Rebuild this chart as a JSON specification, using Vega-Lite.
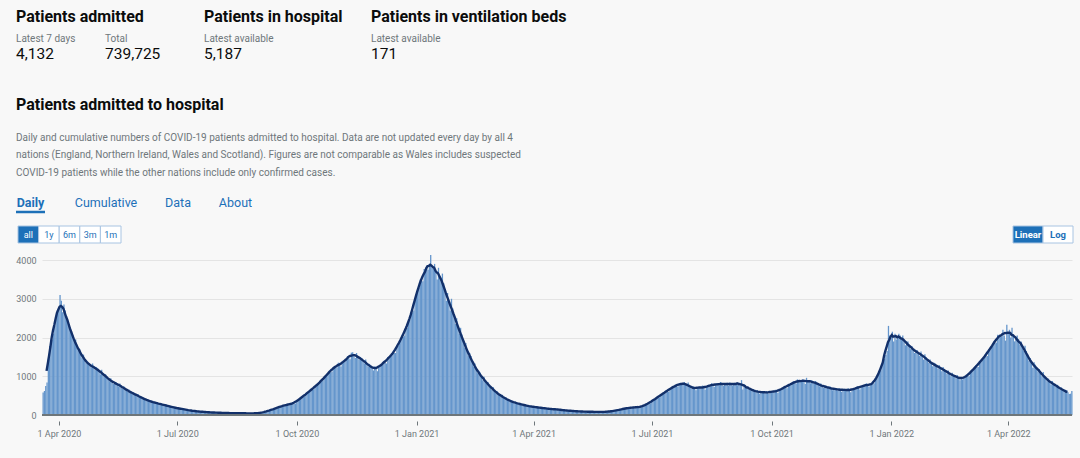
{
"$schema": "https://vega.github.io/schema/vega-lite/v6.json",
"background": "#f8f8f8",
"padding": {"left": 14, "right": 8, "top": 9, "bottom": 25},
"config": {
  "view": {"stroke": null},
  "font": "Roboto",
  "text": {"font": "Roboto"},
  "title": {"font": "Roboto", "subtitleFont": "Roboto", "anchor": "start", "frame": "group", "color": "#0b0c0c", "fontWeight": "bold"}
},
"datasets": {
"admissions": [
{"date":"2020-03-19","admissions":580},{"date":"2020-03-20","admissions":620},{"date":"2020-03-21","admissions":750},{"date":"2020-03-22","admissions":840},{"date":"2020-03-23","admissions":1450},{"date":"2020-03-24","admissions":1780},{"date":"2020-03-25","admissions":1950},{"date":"2020-03-26","admissions":1950},{"date":"2020-03-27","admissions":2100},{"date":"2020-03-28","admissions":2300},{"date":"2020-03-29","admissions":2550},{"date":"2020-03-30","admissions":2700},{"date":"2020-03-31","admissions":2750},
{"date":"2020-04-01","admissions":3100},{"date":"2020-04-02","admissions":2950},{"date":"2020-04-03","admissions":2650},{"date":"2020-04-04","admissions":2850},{"date":"2020-04-05","admissions":2700},{"date":"2020-04-06","admissions":2550},{"date":"2020-04-07","admissions":2400},{"date":"2020-04-08","admissions":2350},{"date":"2020-04-09","admissions":2250},{"date":"2020-04-10","admissions":2100},{"date":"2020-04-11","admissions":2050},{"date":"2020-04-12","admissions":1900},{"date":"2020-04-13","admissions":1950},{"date":"2020-04-14","admissions":1750},{"date":"2020-04-15","admissions":1700},{"date":"2020-04-16","admissions":1700},{"date":"2020-04-17","admissions":1620},{"date":"2020-04-18","admissions":1480},{"date":"2020-04-19","admissions":1560},{"date":"2020-04-20","admissions":1430},{"date":"2020-04-21","admissions":1340},{"date":"2020-04-22","admissions":1380},{"date":"2020-04-23","admissions":1330},{"date":"2020-04-24","admissions":1300},{"date":"2020-04-25","admissions":1230},{"date":"2020-04-26","admissions":1330},{"date":"2020-04-27","admissions":1230},{"date":"2020-04-28","admissions":1160},{"date":"2020-04-29","admissions":1240},{"date":"2020-04-30","admissions":1200},
{"date":"2020-05-01","admissions":1160},{"date":"2020-05-02","admissions":1050},{"date":"2020-05-03","admissions":1170},{"date":"2020-05-04","admissions":1060},{"date":"2020-05-05","admissions":990},{"date":"2020-05-06","admissions":1050},{"date":"2020-05-07","admissions":1000},{"date":"2020-05-08","admissions":950},{"date":"2020-05-09","admissions":870},{"date":"2020-05-10","admissions":950},{"date":"2020-05-11","admissions":860},{"date":"2020-05-12","admissions":800},{"date":"2020-05-13","admissions":850},{"date":"2020-05-14","admissions":850},{"date":"2020-05-15","admissions":810},{"date":"2020-05-16","admissions":740},{"date":"2020-05-17","admissions":810},{"date":"2020-05-18","admissions":740},{"date":"2020-05-19","admissions":680},{"date":"2020-05-20","admissions":740},{"date":"2020-05-21","admissions":700},{"date":"2020-05-22","admissions":660},{"date":"2020-05-23","admissions":600},{"date":"2020-05-24","admissions":660},{"date":"2020-05-25","admissions":590},{"date":"2020-05-26","admissions":550},{"date":"2020-05-27","admissions":590},{"date":"2020-05-28","admissions":570},{"date":"2020-05-29","admissions":540},{"date":"2020-05-30","admissions":480},{"date":"2020-05-31","admissions":535},
{"date":"2020-06-01","admissions":475},{"date":"2020-06-02","admissions":440},{"date":"2020-06-03","admissions":470},{"date":"2020-06-04","admissions":440},{"date":"2020-06-05","admissions":420},{"date":"2020-06-06","admissions":375},{"date":"2020-06-07","admissions":415},{"date":"2020-06-08","admissions":370},{"date":"2020-06-09","admissions":340},{"date":"2020-06-10","admissions":365},{"date":"2020-06-11","admissions":350},{"date":"2020-06-12","admissions":335},{"date":"2020-06-13","admissions":300},{"date":"2020-06-14","admissions":335},{"date":"2020-06-15","admissions":300},{"date":"2020-06-16","admissions":280},{"date":"2020-06-17","admissions":300},{"date":"2020-06-18","admissions":285},{"date":"2020-06-19","admissions":270},{"date":"2020-06-20","admissions":245},{"date":"2020-06-21","admissions":270},{"date":"2020-06-22","admissions":240},{"date":"2020-06-23","admissions":225},{"date":"2020-06-24","admissions":245},{"date":"2020-06-25","admissions":220},{"date":"2020-06-26","admissions":210},{"date":"2020-06-27","admissions":185},{"date":"2020-06-28","admissions":205},{"date":"2020-06-29","admissions":185},{"date":"2020-06-30","admissions":170},
{"date":"2020-07-01","admissions":190},{"date":"2020-07-02","admissions":170},{"date":"2020-07-03","admissions":160},{"date":"2020-07-04","admissions":145},{"date":"2020-07-05","admissions":160},{"date":"2020-07-06","admissions":140},{"date":"2020-07-07","admissions":130},{"date":"2020-07-08","admissions":145},{"date":"2020-07-09","admissions":125},{"date":"2020-07-10","admissions":118},{"date":"2020-07-11","admissions":105},{"date":"2020-07-12","admissions":118},{"date":"2020-07-13","admissions":105},{"date":"2020-07-14","admissions":95},{"date":"2020-07-15","admissions":104},{"date":"2020-07-16","admissions":95},{"date":"2020-07-17","admissions":90},{"date":"2020-07-18","admissions":82},{"date":"2020-07-19","admissions":92},{"date":"2020-07-20","admissions":80},{"date":"2020-07-21","admissions":74},{"date":"2020-07-22","admissions":82},{"date":"2020-07-23","admissions":75},{"date":"2020-07-24","admissions":72},{"date":"2020-07-25","admissions":64},{"date":"2020-07-26","admissions":72},{"date":"2020-07-27","admissions":65},{"date":"2020-07-28","admissions":60},{"date":"2020-07-29","admissions":68},{"date":"2020-07-30","admissions":63},{"date":"2020-07-31","admissions":60},
{"date":"2020-08-01","admissions":55},{"date":"2020-08-02","admissions":62},{"date":"2020-08-03","admissions":56},{"date":"2020-08-04","admissions":52},{"date":"2020-08-05","admissions":58},{"date":"2020-08-06","admissions":55},{"date":"2020-08-07","admissions":52},{"date":"2020-08-08","admissions":47},{"date":"2020-08-09","admissions":54},{"date":"2020-08-10","admissions":48},{"date":"2020-08-11","admissions":45},{"date":"2020-08-12","admissions":49},{"date":"2020-08-13","admissions":48},{"date":"2020-08-14","admissions":47},{"date":"2020-08-15","admissions":43},{"date":"2020-08-16","admissions":49},{"date":"2020-08-17","admissions":43},{"date":"2020-08-18","admissions":40},{"date":"2020-08-19","admissions":45},{"date":"2020-08-20","admissions":46},{"date":"2020-08-21","admissions":45},{"date":"2020-08-22","admissions":41},{"date":"2020-08-23","admissions":46},{"date":"2020-08-24","admissions":42},{"date":"2020-08-25","admissions":38},{"date":"2020-08-26","admissions":43},{"date":"2020-08-27","admissions":44},{"date":"2020-08-28","admissions":42},{"date":"2020-08-29","admissions":43},{"date":"2020-08-30","admissions":47},{"date":"2020-08-31","admissions":45},
{"date":"2020-09-01","admissions":44},{"date":"2020-09-02","admissions":50},{"date":"2020-09-03","admissions":60},{"date":"2020-09-04","admissions":68},{"date":"2020-09-05","admissions":75},{"date":"2020-09-06","admissions":92},{"date":"2020-09-07","admissions":90},{"date":"2020-09-08","admissions":95},{"date":"2020-09-09","admissions":115},{"date":"2020-09-10","admissions":125},{"date":"2020-09-11","admissions":140},{"date":"2020-09-12","admissions":145},{"date":"2020-09-13","admissions":170},{"date":"2020-09-14","admissions":165},{"date":"2020-09-15","admissions":165},{"date":"2020-09-16","admissions":210},{"date":"2020-09-17","admissions":210},{"date":"2020-09-18","admissions":225},{"date":"2020-09-19","admissions":225},{"date":"2020-09-20","admissions":255},{"date":"2020-09-21","admissions":240},{"date":"2020-09-22","admissions":235},{"date":"2020-09-23","admissions":290},{"date":"2020-09-24","admissions":265},{"date":"2020-09-25","admissions":280},{"date":"2020-09-26","admissions":285},{"date":"2020-09-27","admissions":315},{"date":"2020-09-28","admissions":300},{"date":"2020-09-29","admissions":295},{"date":"2020-09-30","admissions":360},
{"date":"2020-10-01","admissions":380},{"date":"2020-10-02","admissions":410},{"date":"2020-10-03","admissions":420},{"date":"2020-10-04","admissions":470},{"date":"2020-10-05","admissions":460},{"date":"2020-10-06","admissions":470},{"date":"2020-10-07","admissions":540},{"date":"2020-10-08","admissions":560},{"date":"2020-10-09","admissions":590},{"date":"2020-10-10","admissions":600},{"date":"2020-10-11","admissions":680},{"date":"2020-10-12","admissions":650},{"date":"2020-10-13","admissions":660},{"date":"2020-10-14","admissions":735},{"date":"2020-10-15","admissions":740},{"date":"2020-10-16","admissions":790},{"date":"2020-10-17","admissions":810},{"date":"2020-10-18","admissions":880},{"date":"2020-10-19","admissions":850},{"date":"2020-10-20","admissions":880},{"date":"2020-10-21","admissions":950},{"date":"2020-10-22","admissions":1000},{"date":"2020-10-23","admissions":1030},{"date":"2020-10-24","admissions":1040},{"date":"2020-10-25","admissions":1140},{"date":"2020-10-26","admissions":1100},{"date":"2020-10-27","admissions":1110},{"date":"2020-10-28","admissions":1230},{"date":"2020-10-29","admissions":1260},{"date":"2020-10-30","admissions":1250},{"date":"2020-10-31","admissions":1230},
{"date":"2020-11-01","admissions":1350},{"date":"2020-11-02","admissions":1280},{"date":"2020-11-03","admissions":1250},{"date":"2020-11-04","admissions":1380},{"date":"2020-11-05","admissions":1360},{"date":"2020-11-06","admissions":1380},{"date":"2020-11-07","admissions":1420},{"date":"2020-11-08","admissions":1520},{"date":"2020-11-09","admissions":1480},{"date":"2020-11-10","admissions":1440},{"date":"2020-11-11","admissions":1610},{"date":"2020-11-12","admissions":1620},{"date":"2020-11-13","admissions":1560},{"date":"2020-11-14","admissions":1470},{"date":"2020-11-15","admissions":1600},{"date":"2020-11-16","admissions":1520},{"date":"2020-11-17","admissions":1430},{"date":"2020-11-18","admissions":1500},{"date":"2020-11-19","admissions":1470},{"date":"2020-11-20","admissions":1420},{"date":"2020-11-21","admissions":1330},{"date":"2020-11-22","admissions":1430},{"date":"2020-11-23","admissions":1330},{"date":"2020-11-24","admissions":1250},{"date":"2020-11-25","admissions":1320},{"date":"2020-11-26","admissions":1250},{"date":"2020-11-27","admissions":1230},{"date":"2020-11-28","admissions":1150},{"date":"2020-11-29","admissions":1260},{"date":"2020-11-30","admissions":1200},
{"date":"2020-12-01","admissions":1130},{"date":"2020-12-02","admissions":1250},{"date":"2020-12-03","admissions":1280},{"date":"2020-12-04","admissions":1300},{"date":"2020-12-05","admissions":1290},{"date":"2020-12-06","admissions":1400},{"date":"2020-12-07","admissions":1350},{"date":"2020-12-08","admissions":1330},{"date":"2020-12-09","admissions":1500},{"date":"2020-12-10","admissions":1460},{"date":"2020-12-11","admissions":1500},{"date":"2020-12-12","admissions":1530},{"date":"2020-12-13","admissions":1640},{"date":"2020-12-14","admissions":1600},{"date":"2020-12-15","admissions":1600},{"date":"2020-12-16","admissions":1800},{"date":"2020-12-17","admissions":1780},{"date":"2020-12-18","admissions":1860},{"date":"2020-12-19","admissions":1920},{"date":"2020-12-20","admissions":2080},{"date":"2020-12-21","admissions":2020},{"date":"2020-12-22","admissions":2050},{"date":"2020-12-23","admissions":2290},{"date":"2020-12-24","admissions":2250},{"date":"2020-12-25","admissions":2380},{"date":"2020-12-26","admissions":2450},{"date":"2020-12-27","admissions":2650},{"date":"2020-12-28","admissions":2650},{"date":"2020-12-29","admissions":2700},{"date":"2020-12-30","admissions":3000},{"date":"2020-12-31","admissions":3100},
{"date":"2021-01-01","admissions":3250},{"date":"2021-01-02","admissions":3280},{"date":"2021-01-03","admissions":3500},{"date":"2021-01-04","admissions":3450},{"date":"2021-01-05","admissions":3450},{"date":"2021-01-06","admissions":3770},{"date":"2021-01-07","admissions":3700},{"date":"2021-01-08","admissions":3850},{"date":"2021-01-09","admissions":3750},{"date":"2021-01-10","admissions":3900},{"date":"2021-01-11","admissions":4130},{"date":"2021-01-12","admissions":3800},{"date":"2021-01-13","admissions":3800},{"date":"2021-01-14","admissions":3900},{"date":"2021-01-15","admissions":3700},{"date":"2021-01-16","admissions":3500},{"date":"2021-01-17","admissions":3800},{"date":"2021-01-18","admissions":3600},{"date":"2021-01-19","admissions":3450},{"date":"2021-01-20","admissions":3650},{"date":"2021-01-21","admissions":3400},{"date":"2021-01-22","admissions":3250},{"date":"2021-01-23","admissions":2950},{"date":"2021-01-24","admissions":3150},{"date":"2021-01-25","admissions":2950},{"date":"2021-01-26","admissions":2700},{"date":"2021-01-27","admissions":3000},{"date":"2021-01-28","admissions":2750},{"date":"2021-01-29","admissions":2600},{"date":"2021-01-30","admissions":2350},{"date":"2021-01-31","admissions":2500},
{"date":"2021-02-01","admissions":2300},{"date":"2021-02-02","admissions":2100},{"date":"2021-02-03","admissions":2250},{"date":"2021-02-04","admissions":2080},{"date":"2021-02-05","admissions":1960},{"date":"2021-02-06","admissions":1740},{"date":"2021-02-07","admissions":1860},{"date":"2021-02-08","admissions":1700},{"date":"2021-02-09","admissions":1520},{"date":"2021-02-10","admissions":1600},{"date":"2021-02-11","admissions":1520},{"date":"2021-02-12","admissions":1420},{"date":"2021-02-13","admissions":1250},{"date":"2021-02-14","admissions":1330},{"date":"2021-02-15","admissions":1210},{"date":"2021-02-16","admissions":1080},{"date":"2021-02-17","admissions":1140},{"date":"2021-02-18","admissions":1100},{"date":"2021-02-19","admissions":1020},{"date":"2021-02-20","admissions":900},{"date":"2021-02-21","admissions":990},{"date":"2021-02-22","admissions":880},{"date":"2021-02-23","admissions":800},{"date":"2021-02-24","admissions":850},{"date":"2021-02-25","admissions":790},{"date":"2021-02-26","admissions":740},{"date":"2021-02-27","admissions":650},{"date":"2021-02-28","admissions":720},
{"date":"2021-03-01","admissions":630},{"date":"2021-03-02","admissions":570},{"date":"2021-03-03","admissions":610},{"date":"2021-03-04","admissions":560},{"date":"2021-03-05","admissions":530},{"date":"2021-03-06","admissions":470},{"date":"2021-03-07","admissions":520},{"date":"2021-03-08","admissions":460},{"date":"2021-03-09","admissions":420},{"date":"2021-03-10","admissions":450},{"date":"2021-03-11","admissions":410},{"date":"2021-03-12","admissions":390},{"date":"2021-03-13","admissions":345},{"date":"2021-03-14","admissions":380},{"date":"2021-03-15","admissions":340},{"date":"2021-03-16","admissions":310},{"date":"2021-03-17","admissions":335},{"date":"2021-03-18","admissions":320},{"date":"2021-03-19","admissions":305},{"date":"2021-03-20","admissions":275},{"date":"2021-03-21","admissions":300},{"date":"2021-03-22","admissions":270},{"date":"2021-03-23","admissions":250},{"date":"2021-03-24","admissions":270},{"date":"2021-03-25","admissions":255},{"date":"2021-03-26","admissions":245},{"date":"2021-03-27","admissions":220},{"date":"2021-03-28","admissions":245},{"date":"2021-03-29","admissions":220},{"date":"2021-03-30","admissions":205},{"date":"2021-03-31","admissions":220},
{"date":"2021-04-01","admissions":215},{"date":"2021-04-02","admissions":205},{"date":"2021-04-03","admissions":190},{"date":"2021-04-04","admissions":205},{"date":"2021-04-05","admissions":185},{"date":"2021-04-06","admissions":175},{"date":"2021-04-07","admissions":190},{"date":"2021-04-08","admissions":180},{"date":"2021-04-09","admissions":175},{"date":"2021-04-10","admissions":160},{"date":"2021-04-11","admissions":175},{"date":"2021-04-12","admissions":160},{"date":"2021-04-13","admissions":148},{"date":"2021-04-14","admissions":157},{"date":"2021-04-15","admissions":155},{"date":"2021-04-16","admissions":155},{"date":"2021-04-17","admissions":140},{"date":"2021-04-18","admissions":152},{"date":"2021-04-19","admissions":142},{"date":"2021-04-20","admissions":130},{"date":"2021-04-21","admissions":141},{"date":"2021-04-22","admissions":132},{"date":"2021-04-23","admissions":127},{"date":"2021-04-24","admissions":115},{"date":"2021-04-25","admissions":128},{"date":"2021-04-26","admissions":115},{"date":"2021-04-27","admissions":106},{"date":"2021-04-28","admissions":117},{"date":"2021-04-29","admissions":110},{"date":"2021-04-30","admissions":105},
{"date":"2021-05-01","admissions":96},{"date":"2021-05-02","admissions":107},{"date":"2021-05-03","admissions":96},{"date":"2021-05-04","admissions":89},{"date":"2021-05-05","admissions":97},{"date":"2021-05-06","admissions":95},{"date":"2021-05-07","admissions":92},{"date":"2021-05-08","admissions":85},{"date":"2021-05-09","admissions":93},{"date":"2021-05-10","admissions":85},{"date":"2021-05-11","admissions":79},{"date":"2021-05-12","admissions":87},{"date":"2021-05-13","admissions":87},{"date":"2021-05-14","admissions":86},{"date":"2021-05-15","admissions":79},{"date":"2021-05-16","admissions":87},{"date":"2021-05-17","admissions":80},{"date":"2021-05-18","admissions":74},{"date":"2021-05-19","admissions":81},{"date":"2021-05-20","admissions":84},{"date":"2021-05-21","admissions":83},{"date":"2021-05-22","admissions":77},{"date":"2021-05-23","admissions":85},{"date":"2021-05-24","admissions":78},{"date":"2021-05-25","admissions":73},{"date":"2021-05-26","admissions":80},{"date":"2021-05-27","admissions":88},{"date":"2021-05-28","admissions":90},{"date":"2021-05-29","admissions":92},{"date":"2021-05-30","admissions":101},{"date":"2021-05-31","admissions":97},
{"date":"2021-06-01","admissions":96},{"date":"2021-06-02","admissions":108},{"date":"2021-06-03","admissions":120},{"date":"2021-06-04","admissions":128},{"date":"2021-06-05","admissions":132},{"date":"2021-06-06","admissions":146},{"date":"2021-06-07","admissions":142},{"date":"2021-06-08","admissions":140},{"date":"2021-06-09","admissions":172},{"date":"2021-06-10","admissions":170},{"date":"2021-06-11","admissions":178},{"date":"2021-06-12","admissions":176},{"date":"2021-06-13","admissions":192},{"date":"2021-06-14","admissions":185},{"date":"2021-06-15","admissions":180},{"date":"2021-06-16","admissions":214},{"date":"2021-06-17","admissions":195},{"date":"2021-06-18","admissions":200},{"date":"2021-06-19","admissions":196},{"date":"2021-06-20","admissions":212},{"date":"2021-06-21","admissions":205},{"date":"2021-06-22","admissions":198},{"date":"2021-06-23","admissions":229},{"date":"2021-06-24","admissions":240},{"date":"2021-06-25","admissions":260},{"date":"2021-06-26","admissions":270},{"date":"2021-06-27","admissions":305},{"date":"2021-06-28","admissions":300},{"date":"2021-06-29","admissions":300},{"date":"2021-06-30","admissions":355},
{"date":"2021-07-01","admissions":375},{"date":"2021-07-02","admissions":400},{"date":"2021-07-03","admissions":410},{"date":"2021-07-04","admissions":465},{"date":"2021-07-05","admissions":450},{"date":"2021-07-06","admissions":450},{"date":"2021-07-07","admissions":530},{"date":"2021-07-08","admissions":540},{"date":"2021-07-09","admissions":560},{"date":"2021-07-10","admissions":560},{"date":"2021-07-11","admissions":630},{"date":"2021-07-12","admissions":610},{"date":"2021-07-13","admissions":600},{"date":"2021-07-14","admissions":700},{"date":"2021-07-15","admissions":690},{"date":"2021-07-16","admissions":710},{"date":"2021-07-17","admissions":710},{"date":"2021-07-18","admissions":780},{"date":"2021-07-19","admissions":750},{"date":"2021-07-20","admissions":730},{"date":"2021-07-21","admissions":810},{"date":"2021-07-22","admissions":830},{"date":"2021-07-23","admissions":820},{"date":"2021-07-24","admissions":780},{"date":"2021-07-25","admissions":850},{"date":"2021-07-26","admissions":790},{"date":"2021-07-27","admissions":760},{"date":"2021-07-28","admissions":840},{"date":"2021-07-29","admissions":740},{"date":"2021-07-30","admissions":720},{"date":"2021-07-31","admissions":670},
{"date":"2021-08-01","admissions":740},{"date":"2021-08-02","admissions":680},{"date":"2021-08-03","admissions":640},{"date":"2021-08-04","admissions":710},{"date":"2021-08-05","admissions":730},{"date":"2021-08-06","admissions":730},{"date":"2021-08-07","admissions":690},{"date":"2021-08-08","admissions":760},{"date":"2021-08-09","admissions":700},{"date":"2021-08-10","admissions":650},{"date":"2021-08-11","admissions":710},{"date":"2021-08-12","admissions":770},{"date":"2021-08-13","admissions":780},{"date":"2021-08-14","admissions":740},{"date":"2021-08-15","admissions":820},{"date":"2021-08-16","admissions":780},{"date":"2021-08-17","admissions":720},{"date":"2021-08-18","admissions":780},{"date":"2021-08-19","admissions":820},{"date":"2021-08-20","admissions":810},{"date":"2021-08-21","admissions":770},{"date":"2021-08-22","admissions":850},{"date":"2021-08-23","admissions":800},{"date":"2021-08-24","admissions":750},{"date":"2021-08-25","admissions":800},{"date":"2021-08-26","admissions":810},{"date":"2021-08-27","admissions":830},{"date":"2021-08-28","admissions":760},{"date":"2021-08-29","admissions":840},{"date":"2021-08-30","admissions":810},{"date":"2021-08-31","admissions":760},
{"date":"2021-09-01","admissions":790},{"date":"2021-09-02","admissions":830},{"date":"2021-09-03","admissions":810},{"date":"2021-09-04","admissions":770},{"date":"2021-09-05","admissions":840},{"date":"2021-09-06","admissions":790},{"date":"2021-09-07","admissions":900},{"date":"2021-09-08","admissions":660},{"date":"2021-09-09","admissions":800},{"date":"2021-09-10","admissions":760},{"date":"2021-09-11","admissions":700},{"date":"2021-09-12","admissions":730},{"date":"2021-09-13","admissions":690},{"date":"2021-09-14","admissions":640},{"date":"2021-09-15","admissions":650},{"date":"2021-09-16","admissions":660},{"date":"2021-09-17","admissions":640},{"date":"2021-09-18","admissions":590},{"date":"2021-09-19","admissions":640},{"date":"2021-09-20","admissions":590},{"date":"2021-09-21","admissions":550},{"date":"2021-09-22","admissions":600},{"date":"2021-09-23","admissions":610},{"date":"2021-09-24","admissions":600},{"date":"2021-09-25","admissions":560},{"date":"2021-09-26","admissions":620},{"date":"2021-09-27","admissions":570},{"date":"2021-09-28","admissions":540},{"date":"2021-09-29","admissions":595},{"date":"2021-09-30","admissions":610},
{"date":"2021-10-01","admissions":620},{"date":"2021-10-02","admissions":590},{"date":"2021-10-03","admissions":650},{"date":"2021-10-04","admissions":610},{"date":"2021-10-05","admissions":570},{"date":"2021-10-06","admissions":620},{"date":"2021-10-07","admissions":660},{"date":"2021-10-08","admissions":690},{"date":"2021-10-09","admissions":680},{"date":"2021-10-10","admissions":750},{"date":"2021-10-11","admissions":720},{"date":"2021-10-12","admissions":690},{"date":"2021-10-13","admissions":780},{"date":"2021-10-14","admissions":780},{"date":"2021-10-15","admissions":800},{"date":"2021-10-16","admissions":800},{"date":"2021-10-17","admissions":870},{"date":"2021-10-18","admissions":830},{"date":"2021-10-19","admissions":810},{"date":"2021-10-20","admissions":920},{"date":"2021-10-21","admissions":880},{"date":"2021-10-22","admissions":890},{"date":"2021-10-23","admissions":850},{"date":"2021-10-24","admissions":920},{"date":"2021-10-25","admissions":860},{"date":"2021-10-26","admissions":800},{"date":"2021-10-27","admissions":960},{"date":"2021-10-28","admissions":900},{"date":"2021-10-29","admissions":870},{"date":"2021-10-30","admissions":820},{"date":"2021-10-31","admissions":900},
{"date":"2021-11-01","admissions":850},{"date":"2021-11-02","admissions":800},{"date":"2021-11-03","admissions":880},{"date":"2021-11-04","admissions":830},{"date":"2021-11-05","admissions":800},{"date":"2021-11-06","admissions":740},{"date":"2021-11-07","admissions":810},{"date":"2021-11-08","admissions":750},{"date":"2021-11-09","admissions":700},{"date":"2021-11-10","admissions":760},{"date":"2021-11-11","admissions":750},{"date":"2021-11-12","admissions":730},{"date":"2021-11-13","admissions":670},{"date":"2021-11-14","admissions":740},{"date":"2021-11-15","admissions":680},{"date":"2021-11-16","admissions":640},{"date":"2021-11-17","admissions":690},{"date":"2021-11-18","admissions":690},{"date":"2021-11-19","admissions":680},{"date":"2021-11-20","admissions":630},{"date":"2021-11-21","admissions":700},{"date":"2021-11-22","admissions":640},{"date":"2021-11-23","admissions":600},{"date":"2021-11-24","admissions":645},{"date":"2021-11-25","admissions":680},{"date":"2021-11-26","admissions":670},{"date":"2021-11-27","admissions":620},{"date":"2021-11-28","admissions":690},{"date":"2021-11-29","admissions":630},{"date":"2021-11-30","admissions":590},
{"date":"2021-12-01","admissions":635},{"date":"2021-12-02","admissions":690},{"date":"2021-12-03","admissions":700},{"date":"2021-12-04","admissions":670},{"date":"2021-12-05","admissions":740},{"date":"2021-12-06","admissions":700},{"date":"2021-12-07","admissions":660},{"date":"2021-12-08","admissions":740},{"date":"2021-12-09","admissions":760},{"date":"2021-12-10","admissions":770},{"date":"2021-12-11","admissions":740},{"date":"2021-12-12","admissions":820},{"date":"2021-12-13","admissions":770},{"date":"2021-12-14","admissions":730},{"date":"2021-12-15","admissions":800},{"date":"2021-12-16","admissions":780},{"date":"2021-12-17","admissions":800},{"date":"2021-12-18","admissions":820},{"date":"2021-12-19","admissions":880},{"date":"2021-12-20","admissions":950},{"date":"2021-12-21","admissions":1020},{"date":"2021-12-22","admissions":1080},{"date":"2021-12-23","admissions":1150},{"date":"2021-12-24","admissions":1250},{"date":"2021-12-25","admissions":1350},{"date":"2021-12-26","admissions":1450},{"date":"2021-12-27","admissions":1550},{"date":"2021-12-28","admissions":1650},{"date":"2021-12-29","admissions":2300},{"date":"2021-12-30","admissions":2050},{"date":"2021-12-31","admissions":2000},
{"date":"2022-01-01","admissions":2150},{"date":"2022-01-02","admissions":1900},{"date":"2022-01-03","admissions":2100},{"date":"2022-01-04","admissions":1950},{"date":"2022-01-05","admissions":2000},{"date":"2022-01-06","admissions":2100},{"date":"2022-01-07","admissions":2050},{"date":"2022-01-08","admissions":1950},{"date":"2022-01-09","admissions":2050},{"date":"2022-01-10","admissions":1900},{"date":"2022-01-11","admissions":1800},{"date":"2022-01-12","admissions":1900},{"date":"2022-01-13","admissions":1900},{"date":"2022-01-14","admissions":1820},{"date":"2022-01-15","admissions":1700},{"date":"2022-01-16","admissions":1780},{"date":"2022-01-17","admissions":1680},{"date":"2022-01-18","admissions":1600},{"date":"2022-01-19","admissions":1680},{"date":"2022-01-20","admissions":1680},{"date":"2022-01-21","admissions":1620},{"date":"2022-01-22","admissions":1530},{"date":"2022-01-23","admissions":1640},{"date":"2022-01-24","admissions":1520},{"date":"2022-01-25","admissions":1430},{"date":"2022-01-26","admissions":1570},{"date":"2022-01-27","admissions":1500},{"date":"2022-01-28","admissions":1450},{"date":"2022-01-29","admissions":1340},{"date":"2022-01-30","admissions":1430},{"date":"2022-01-31","admissions":1330},
{"date":"2022-02-01","admissions":1260},{"date":"2022-02-02","admissions":1350},{"date":"2022-02-03","admissions":1330},{"date":"2022-02-04","admissions":1290},{"date":"2022-02-05","admissions":1200},{"date":"2022-02-06","admissions":1290},{"date":"2022-02-07","admissions":1200},{"date":"2022-02-08","admissions":1130},{"date":"2022-02-09","admissions":1240},{"date":"2022-02-10","admissions":1190},{"date":"2022-02-11","admissions":1150},{"date":"2022-02-12","admissions":1060},{"date":"2022-02-13","admissions":1150},{"date":"2022-02-14","admissions":1060},{"date":"2022-02-15","admissions":1000},{"date":"2022-02-16","admissions":1090},{"date":"2022-02-17","admissions":1040},{"date":"2022-02-18","admissions":1010},{"date":"2022-02-19","admissions":950},{"date":"2022-02-20","admissions":1030},{"date":"2022-02-21","admissions":950},{"date":"2022-02-22","admissions":900},{"date":"2022-02-23","admissions":980},{"date":"2022-02-24","admissions":920},{"date":"2022-02-25","admissions":950},{"date":"2022-02-26","admissions":960},{"date":"2022-02-27","admissions":1040},{"date":"2022-02-28","admissions":1010},
{"date":"2022-03-01","admissions":1000},{"date":"2022-03-02","admissions":1120},{"date":"2022-03-03","admissions":1120},{"date":"2022-03-04","admissions":1160},{"date":"2022-03-05","admissions":1180},{"date":"2022-03-06","admissions":1280},{"date":"2022-03-07","admissions":1240},{"date":"2022-03-08","admissions":1240},{"date":"2022-03-09","admissions":1390},{"date":"2022-03-10","admissions":1370},{"date":"2022-03-11","admissions":1410},{"date":"2022-03-12","admissions":1440},{"date":"2022-03-13","admissions":1560},{"date":"2022-03-14","admissions":1510},{"date":"2022-03-15","admissions":1520},{"date":"2022-03-16","admissions":1690},{"date":"2022-03-17","admissions":1680},{"date":"2022-03-18","admissions":1750},{"date":"2022-03-19","admissions":1760},{"date":"2022-03-20","admissions":1900},{"date":"2022-03-21","admissions":1850},{"date":"2022-03-22","admissions":1870},{"date":"2022-03-23","admissions":2070},{"date":"2022-03-24","admissions":2030},{"date":"2022-03-25","admissions":2080},{"date":"2022-03-26","admissions":2020},{"date":"2022-03-27","admissions":2200},{"date":"2022-03-28","admissions":2050},{"date":"2022-03-29","admissions":1920},{"date":"2022-03-30","admissions":2330},{"date":"2022-03-31","admissions":2100},
{"date":"2022-04-01","admissions":2200},{"date":"2022-04-02","admissions":2000},{"date":"2022-04-03","admissions":2250},{"date":"2022-04-04","admissions":2050},{"date":"2022-04-05","admissions":1900},{"date":"2022-04-06","admissions":1990},{"date":"2022-04-07","admissions":2050},{"date":"2022-04-08","admissions":1960},{"date":"2022-04-09","admissions":1820},{"date":"2022-04-10","admissions":1900},{"date":"2022-04-11","admissions":1780},{"date":"2022-04-12","admissions":1650},{"date":"2022-04-13","admissions":1790},{"date":"2022-04-14","admissions":1650},{"date":"2022-04-15","admissions":1560},{"date":"2022-04-16","admissions":1400},{"date":"2022-04-17","admissions":1470},{"date":"2022-04-18","admissions":1350},{"date":"2022-04-19","admissions":1220},{"date":"2022-04-20","admissions":1360},{"date":"2022-04-21","admissions":1300},{"date":"2022-04-22","admissions":1230},{"date":"2022-04-23","admissions":1120},{"date":"2022-04-24","admissions":1190},{"date":"2022-04-25","admissions":1100},{"date":"2022-04-26","admissions":1000},{"date":"2022-04-27","admissions":1110},{"date":"2022-04-28","admissions":1000},{"date":"2022-04-29","admissions":960},{"date":"2022-04-30","admissions":870},
{"date":"2022-05-01","admissions":940},{"date":"2022-05-02","admissions":860},{"date":"2022-05-03","admissions":790},{"date":"2022-05-04","admissions":880},{"date":"2022-05-05","admissions":810},{"date":"2022-05-06","admissions":790},{"date":"2022-05-07","admissions":720},{"date":"2022-05-08","admissions":780},{"date":"2022-05-09","admissions":710},{"date":"2022-05-10","admissions":660},{"date":"2022-05-11","admissions":710},{"date":"2022-05-12","admissions":650},{"date":"2022-05-13","admissions":640},{"date":"2022-05-14","admissions":590},{"date":"2022-05-15","admissions":640},{"date":"2022-05-16","admissions":590},{"date":"2022-05-17","admissions":540},{"date":"2022-05-18","admissions":550},{"date":"2022-05-19","admissions":620}
]
},
"spacing": 33,
"vconcat": [
  {
    "spacing": 10,
    "hconcat": [
      {
        "title": {"text": "Patients admitted", "fontSize": 16, "baseline": "alphabetic", "offset": -4},
        "width": 178, "height": 16.6,
        "data": {"values": [{"measure": "Latest 7 days", "figure": "4,132"}, {"measure": "Total", "figure": "739,725"}]},
        "encoding": {"x": {"field": "measure", "type": "nominal", "sort": null, "axis": null, "scale": {"type": "point", "padding": 0.5, "align": 0}}},
        "layer": [
          {"mark": {"type": "text", "align": "left", "baseline": "alphabetic", "fontSize": 10, "color": "#6f777b"},
           "encoding": {"y": {"datum": "label", "type": "nominal", "axis": null, "scale": {"type": "point", "domain": ["label", "value"], "padding": 0}}, "text": {"field": "measure"}}},
          {"mark": {"type": "text", "align": "left", "baseline": "alphabetic", "fontSize": 15.5, "color": "#0b0c0c"},
           "encoding": {"y": {"datum": "value", "type": "nominal", "axis": null, "scale": {"type": "point", "domain": ["label", "value"], "padding": 0}}, "text": {"field": "figure"}}}
        ]
      },
      {
        "title": {"text": "Patients in hospital", "fontSize": 16, "baseline": "alphabetic", "offset": -4},
        "width": 157, "height": 16.6,
        "data": {"values": [{"measure": "Latest available", "figure": "5,187"}]},
        "encoding": {"x": {"field": "measure", "type": "nominal", "sort": null, "axis": null, "scale": {"type": "point", "padding": 0.5, "align": 0}}},
        "layer": [
          {"mark": {"type": "text", "align": "left", "baseline": "alphabetic", "fontSize": 10, "color": "#6f777b"},
           "encoding": {"y": {"datum": "label", "type": "nominal", "axis": null, "scale": {"type": "point", "domain": ["label", "value"], "padding": 0}}, "text": {"field": "measure"}}},
          {"mark": {"type": "text", "align": "left", "baseline": "alphabetic", "fontSize": 15.5, "color": "#0b0c0c"},
           "encoding": {"y": {"datum": "value", "type": "nominal", "axis": null, "scale": {"type": "point", "domain": ["label", "value"], "padding": 0}}, "text": {"field": "figure"}}}
        ]
      },
      {
        "title": {"text": "Patients in ventilation beds", "fontSize": 16, "baseline": "alphabetic", "offset": -4},
        "width": 200, "height": 16.6,
        "data": {"values": [{"measure": "Latest available", "figure": "171"}]},
        "encoding": {"x": {"field": "measure", "type": "nominal", "sort": null, "axis": null, "scale": {"type": "point", "padding": 0.5, "align": 0}}},
        "layer": [
          {"mark": {"type": "text", "align": "left", "baseline": "alphabetic", "fontSize": 10, "color": "#6f777b"},
           "encoding": {"y": {"datum": "label", "type": "nominal", "axis": null, "scale": {"type": "point", "domain": ["label", "value"], "padding": 0}}, "text": {"field": "measure"}}},
          {"mark": {"type": "text", "align": "left", "baseline": "alphabetic", "fontSize": 15.5, "color": "#0b0c0c"},
           "encoding": {"y": {"datum": "value", "type": "nominal", "axis": null, "scale": {"type": "point", "domain": ["label", "value"], "padding": 0}}, "text": {"field": "figure"}}}
        ]
      }
    ]
  },
  {
    "spacing": 11,
    "vconcat": [
      {
        "title": {
          "text": "Patients admitted to hospital",
          "subtitle": [
            "Daily and cumulative numbers of COVID-19 patients admitted to hospital. Data are not updated every day by all 4",
            "nations (England, Northern Ireland, Wales and Scotland). Figures are not comparable as Wales includes suspected",
            "COVID-19 patients while the other nations include only confirmed cases."
          ],
          "fontSize": 16, "baseline": "top", "subtitleFontSize": 10, "subtitleColor": "#6f777b", "subtitleFontWeight": "normal",
          "subtitleLineHeight": 17.7, "subtitlePadding": 20, "offset": 15
        },
        "spacing": 27,
        "hconcat": [
          {
            "width": 29, "height": 20,
            "data": {"values": [{"tab": "Daily"}]},
            "layer": [
              {"mark": {"type": "text", "fontSize": 12.5, "fontWeight": "bold", "color": "#1d70b8"}, "encoding": {"text": {"field": "tab"}}},
              {"mark": {"type": "rule", "color": "#1d70b8", "strokeWidth": 2.5}, "encoding": {"y": {"datum": 0.05, "type": "quantitative", "axis": null, "scale": {"domain": [0, 1]}}}}
            ]
          },
          {"width": 62, "height": 20, "data": {"values": [{"tab": "Cumulative"}]}, "mark": {"type": "text", "fontSize": 12.5, "color": "#1d70b8"}, "encoding": {"text": {"field": "tab"}}},
          {"width": 26, "height": 20, "data": {"values": [{"tab": "Data"}]}, "mark": {"type": "text", "fontSize": 12.5, "color": "#1d70b8"}, "encoding": {"text": {"field": "tab"}}},
          {"width": 33, "height": 20, "data": {"values": [{"tab": "About"}]}, "mark": {"type": "text", "fontSize": 12.5, "color": "#1d70b8"}, "encoding": {"text": {"field": "tab"}}}
        ]
      },
      {
        "spacing": 889,
        "hconcat": [
          {
            "width": 107, "height": 17,
            "data": {"values": [{"range": "all", "selected": true}, {"range": "1y", "selected": false}, {"range": "6m", "selected": false}, {"range": "3m", "selected": false}, {"range": "1m", "selected": false}]},
            "encoding": {"x": {"field": "range", "type": "nominal", "sort": null, "axis": null, "scale": {"paddingInner": 0, "paddingOuter": 0.097}}},
            "layer": [
              {"mark": {"type": "bar", "stroke": "#a8c4e2", "strokeWidth": 1}, "encoding": {"color": {"condition": {"test": "datum.selected", "value": "#1d70b8"}, "value": "#ffffff"}}},
              {"mark": {"type": "text", "fontSize": 9}, "encoding": {"text": {"field": "range"}, "color": {"condition": {"test": "datum.selected", "value": "#ffffff"}, "value": "#1d70b8"}}}
            ]
          },
          {
            "width": 60, "height": 17,
            "data": {"values": [{"scale": "Linear", "selected": true}, {"scale": "Log", "selected": false}]},
            "encoding": {"x": {"field": "scale", "type": "nominal", "sort": null, "axis": null, "scale": {"paddingInner": 0, "paddingOuter": 0}}},
            "layer": [
              {"mark": {"type": "bar", "stroke": "#a8c4e2", "strokeWidth": 1}, "encoding": {"color": {"condition": {"test": "datum.selected", "value": "#1d70b8"}, "value": "#ffffff"}}},
              {"mark": {"type": "text", "fontSize": 9.5, "fontWeight": "bold"}, "encoding": {"text": {"field": "scale"}, "color": {"condition": {"test": "datum.selected", "value": "#ffffff"}, "value": "#1d70b8"}}}
            ]
          }
        ]
      },
      {
        "spacing": -2,
        "hconcat": [
          {"width": 1, "height": 160, "data": {"values": []}, "mark": "point"},
          {
            "width": 1030, "height": 160,
            "data": {"name": "admissions"},
            "layer": [
              {
                "mark": {"type": "bar", "color": "#6596cc", "binSpacing": 0},
                "encoding": {
                  "x": {"field": "date", "timeUnit": "utcyearmonthdate", "type": "temporal", "title": null, "scale": {"nice": false},
                        "axis": {"format": "%-d %b %Y", "tickCount": {"interval": "month", "step": 3}, "grid": false, "domain": false, "ticks": true, "tickSize": 4, "tickColor": "#6f777b", "offset": 6, "labelFontSize": 9, "labelColor": "#6f777b", "labelPadding": 4, "labelFont": "Roboto", "labelFlush": false}},
                  "y": {"field": "admissions", "type": "quantitative", "title": null, "scale": {"domain": [0, 4130], "nice": false},
                        "axis": {"tickCount": 5, "format": "d", "grid": true, "gridColor": "#e4e4e4", "domain": false, "ticks": false, "labelOverlap": false, "labelSeparation": 0, "labelFontSize": 9, "labelColor": "#6f777b", "labelPadding": 6, "labelFont": "Roboto", "minExtent": 25}}
                }
              },
              {
                "transform": [
                  {"window": [{"op": "mean", "field": "admissions", "as": "avg"}, {"op": "count", "field": "admissions", "as": "days"}], "frame": [-3, 3], "sort": [{"field": "date", "order": "ascending"}]},
                  {"filter": "datum.days == 7"}
                ],
                "mark": {"type": "line", "color": "#12306a", "strokeWidth": 2.4},
                "encoding": {
                  "x": {"field": "date", "timeUnit": "utcyearmonthdate", "type": "temporal", "bandPosition": 0.5},
                  "y": {"field": "avg", "type": "quantitative"}
                }
              },
              {"mark": {"type": "rule", "color": "#6f777b", "strokeWidth": 1}, "encoding": {"y": {"datum": 0}}}
            ]
          }
        ]
      }
    ]
  }
]
}
